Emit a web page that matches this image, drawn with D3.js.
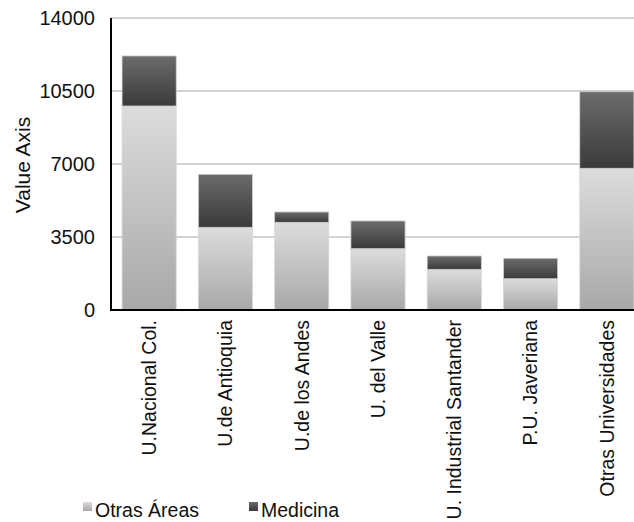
<!DOCTYPE html>
<html>
<head>
<meta charset="utf-8">
<script src="https://cdn.jsdelivr.net/npm/d3@7"></script>
<style>
    body { margin: 0; background: #fff; }
    text { font-family: 'Liberation Sans', Arial, sans-serif; fill: #111; }
</style>
</head>
<body>
<script>
const categories = ['U.Nacional Col.', 'U.de Antioquia', 'U.de los Andes', 'U. del Valle',
    'U. Industrial Santander', 'P.U. Javeriana', 'Otras Universidades'];
const otrasAreas = [9780, 3965, 4205, 2940, 1950, 1500, 6795];
const medicina = [2400, 2540, 495, 1330, 640, 980, 3670];
const seriesNames = ['Otras Áreas', 'Medicina'];
const yTicks = [0, 3500, 7000, 10500, 14000];

const chartConfig = {
    w: 634,
    h: 522
};

(function d3Draw() {

    const data = categories.map(function(c, i) {
        return { cat: c, otras: otrasAreas[i], med: medicina[i] };
    });

    const svg = d3.select('body')
        .append('svg')
        .attr('width', chartConfig.w)
        .attr('height', chartConfig.h);

    // GRADIENTS

    const defs = svg.append('defs');
    const grads = [
        { id: 'gOtras', top: '#dcdcdc', bottom: '#a8a8a8' },
        { id: 'gMed', top: '#6c6c6c', bottom: '#3a3a3a' }
    ];
    grads.forEach(function(g) {
        const lg = defs.append('linearGradient')
            .attr('id', g.id)
            .attr('x1', 0).attr('y1', 0)
            .attr('x2', 0).attr('y2', 1);
        lg.append('stop').attr('offset', '0%').attr('stop-color', g.top);
        lg.append('stop').attr('offset', '100%').attr('stop-color', g.bottom);
    });

    // SCALE

    const xScale = d3.scaleBand()
        .domain(categories)
        .range([111, 645])
        .paddingInner(0.29)
        .paddingOuter(0.145);

    const yScale = d3.scaleLinear()
        .domain([0, 14000])
        .range([310, 18]);

    // GRID

    svg.append('g')
        .selectAll('line')
        .data(yTicks.slice(1))
        .enter()
        .append('line')
        .attr('x1', 111)
        .attr('x2', chartConfig.w)
        .attr('y1', function(d) { return yScale(d); })
        .attr('y2', function(d) { return yScale(d); })
        .attr('stroke', '#c4c4c4')
        .attr('stroke-width', 1.5);

    // BARS

    const bars = svg.append('g');

    bars.selectAll('rect.otras')
        .data(data)
        .enter()
        .append('rect')
        .attr('class', 'otras')
        .attr('x', function(d) { return xScale(d.cat); })
        .attr('y', function(d) { return yScale(d.otras); })
        .attr('width', xScale.bandwidth())
        .attr('height', function(d) { return yScale(0) - yScale(d.otras); })
        .attr('fill', 'url(#gOtras)')
        .attr('stroke', '#d8d8d8')
        .attr('stroke-width', 0.8);

    bars.selectAll('rect.med')
        .data(data)
        .enter()
        .append('rect')
        .attr('class', 'med')
        .attr('x', function(d) { return xScale(d.cat); })
        .attr('y', function(d) { return yScale(d.otras + d.med); })
        .attr('width', xScale.bandwidth())
        .attr('height', function(d) { return yScale(d.otras) - yScale(d.otras + d.med); })
        .attr('fill', 'url(#gMed)')
        .attr('stroke', '#cfcfcf')
        .attr('stroke-width', 0.8);

    // AXIS

    const yAxis = d3.axisLeft(yScale)
        .tickValues(yTicks)
        .tickFormat(d3.format('d'))
        .tickSize(0)
        .tickPadding(16);

    const yG = svg.append('g')
        .attr('transform', 'translate(111,0)')
        .call(yAxis);
    yG.select('.domain').remove();
    yG.selectAll('text')
        .style('font-size', '20px')
        .style('font-family', "'Liberation Sans', Arial, sans-serif")
        .attr('fill', '#111');

    const xAxis = d3.axisBottom(xScale).tickSize(0);

    const xG = svg.append('g')
        .attr('transform', 'translate(0,310)')
        .call(xAxis);
    xG.select('.domain').remove();
    xG.selectAll('text')
        .style('font-size', '19.5px')
        .style('font-family', "'Liberation Sans', Arial, sans-serif")
        .attr('fill', '#111')
        .style('text-anchor', 'end')
        .attr('x', -10)
        .attr('y', 0)
        .attr('dy', '0.35em')
        .attr('transform', 'rotate(-90)');

    // axis lines
    svg.append('line')
        .attr('x1', 111).attr('x2', 111)
        .attr('y1', yScale(14000)).attr('y2', yScale(0) + 1)
        .attr('stroke', '#000')
        .attr('stroke-width', 2);
    svg.append('line')
        .attr('x1', 110).attr('x2', chartConfig.w)
        .attr('y1', yScale(0)).attr('y2', yScale(0))
        .attr('stroke', '#000')
        .attr('stroke-width', 2);

    svg.append('text')
        .attr('transform', 'translate(30,165) rotate(-90)')
        .attr('text-anchor', 'middle')
        .style('font-size', '21px')
        .text('Value Axis');

    // LEGEND

    const legendX = [83, 249];
    const legend = svg.append('g')
        .selectAll('g')
        .data(seriesNames)
        .enter()
        .append('g')
        .attr('transform', function(d, i) { return 'translate(' + legendX[i] + ',502)'; });

    legend.append('rect')
        .attr('width', 9)
        .attr('height', 9)
        .attr('fill', function(d, i) { return i === 0 ? 'url(#gOtras)' : 'url(#gMed)'; });

    legend.append('text')
        .attr('x', 12)
        .attr('y', 15)
        .style('font-size', '19.5px')
        .text(function(d) { return d; });

})();
</script>
</body>
</html>
